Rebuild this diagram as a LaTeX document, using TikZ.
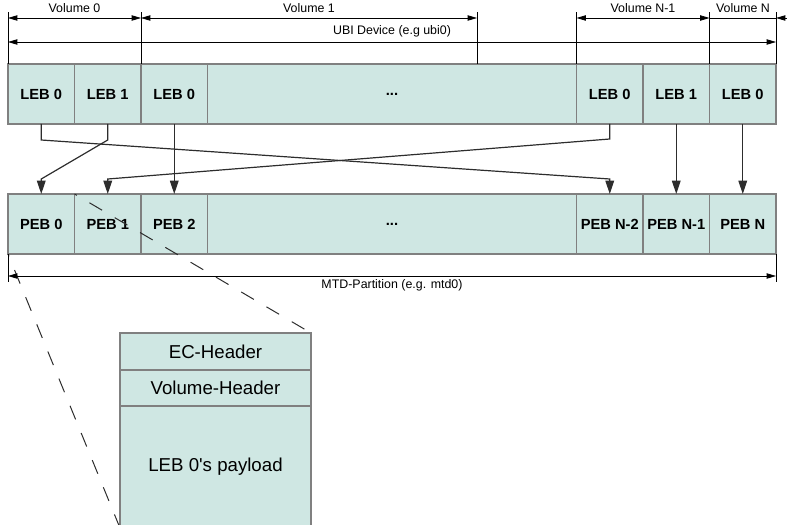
\documentclass[tikz,border=0pt]{standalone}
\usepackage{fontspec}
\setmainfont{Liberation Sans}
\usetikzlibrary{arrows.meta}
\definecolor{cellfill}{RGB}{207,231,227}
\definecolor{cellline}{RGB}{128,128,128}
\definecolor{linkgray}{RGB}{45,45,45}
\tikzset{every picture/.style={line width=0.75pt}}
\tikzset{
  cell/.style={draw=cellline, fill=cellfill, line width=1pt, anchor=north west, inner sep=0pt, outer sep=0pt,
    minimum width=49.875pt, minimum height=45pt, font=\fontsize{11}{13}\selectfont\bfseries},
  widecell/.style={cell, minimum width=276.75pt},
  part/.style={cell, minimum width=143.25pt, font=\fontsize{14}{16}\selectfont},
  dim/.style={{Triangle[length=7pt,width=4pt]}-{Triangle[length=7pt,width=4pt]}, line width=0.6pt},
  dimtip/.style={-{Triangle[length=7pt,width=4pt]}, line width=0.6pt},
  tick/.style={line width=0.75pt},
  link/.style={-{Triangle[length=10pt,width=6.5pt]}, draw=linkgray, line width=0.9pt},
  zoomline/.style={draw=linkgray, line width=0.75pt, dash pattern=on 11pt off 11pt, dash phase=9pt},
  dimlabel/.style={inner sep=0.75pt, font=\fontsize{9.3}{11}\selectfont}
}

\begin{document}
\begin{tikzpicture}[x=0.75pt,y=0.75pt,yscale=-1,xscale=1]
\useasboundingbox (0,0) rectangle (787,524);
\clip (0,0) rectangle (787,524);

% LEB row
\draw (8,64) node [cell] (leb0a) {LEB 0};
\draw (74.5,64) node [cell] (leb1a) {LEB 1};
\draw (141,64) node [cell] (leb0b) {LEB 0};
\draw (207.5,64) node [widecell] (lebdots) {...};
\draw (576.5,64) node [cell] (leb0c) {LEB 0};
\draw (643,64) node [cell] (leb1c) {LEB 1};
\draw (709.5,64) node [cell] (leb0d) {LEB 0};

% PEB row
\draw (8,194) node [cell] (peb0) {PEB 0};
\draw (74.5,194) node [cell] (peb1) {PEB 1};
\draw (141,194) node [cell] (peb2) {PEB 2};
\draw (207.5,194) node [widecell] (pebdots) {...};
\draw (576.5,194) node [cell] (pebn2) {PEB N-2};
\draw (643,194) node [cell] (pebn1) {PEB N-1};
\draw (709.5,194) node [cell] (pebn) {PEB N};

% PEB 1 in detail
\draw (120,333) node [part, minimum height=27.75pt] (ech) {EC-Header};
\draw (ech.south west) node [part, minimum height=27pt] (vidh) {Volume-Header};
\draw (vidh.south west) node [part, minimum height=91.5pt] (payload) {LEB 0\textquotesingle s payload};

%Dashed Lines
\draw [zoomline] (peb1.north west) -- (ech.north east);
\draw [zoomline] (peb0.south west) -- (payload.south west);

%Straight Lines: ticks
\draw [tick] (leb0a.north west) -- ++(0,-52);
\draw [tick] (leb0b.north west) -- ++(0,-52);
\draw [tick] (477,64) -- (477,12);
\draw [tick] (leb0c.north west) -- ++(0,-52);
\draw [tick] (leb0d.north west) -- ++(0,-52);
\draw [tick] (leb0d.north east) -- ++(0,-52);
\draw [tick] (peb0.south west) -- ++(0,28);
\draw [tick] (pebn.south east) -- ++(0,28);

%Dimension Lines
\coordinate (v0l) at (8,18);
\coordinate (v0r) at (141,18);
\coordinate (v1r) at (477,18);
\coordinate (vm1l) at (576.5,18);
\coordinate (vm1r) at (709.5,18);
\coordinate (vnr) at (776,18);
\coordinate (vnout) at (787,18);
\draw [dim] (v0l) -- (v0r);
\draw [dim] (v0r) -- (v1r);
\draw [dim] (vm1l) -- (vm1r);
\draw [line width=0.6pt] (vm1r) -- (vnr);
\draw [dimtip] (vnout) -- (vnr);
\draw [dim] (8,42) -- (776,42);
\draw [dim] (8,276) -- (776,276);

% Text Node
\draw (74.5,8) node [dimlabel] {Volume 0};
\draw (309,8) node [dimlabel] {Volume 1};
\draw (643,8) node [dimlabel] {Volume N-1};
\draw (743,8) node [dimlabel] {Volume N};
\draw (392,31) node [dimlabel] {UBI Device (e.g ubi0)};
\draw (392,285) node [dimlabel] {MTD-Partition (e.g. mtd0)};

%Connectors LEB -> PEB
\draw [link] (leb0a.south) -- ++(0,16) -- ([yshift=-11.25pt]pebn2.north) -- (pebn2.north);
\draw [link] (leb1a.south) -- ++(0,16) -- ([yshift=-11.25pt]peb0.north) -- (peb0.north);
\draw [link] (leb0c.south) -- ++(0,15) -- ([yshift=-11.25pt]peb1.north) -- (peb1.north);
\draw [link] (leb0b.south) -- (peb2.north);
\draw [link] (leb1c.south) -- (pebn1.north);
\draw [link] (leb0d.south) -- (pebn.north);

\end{tikzpicture}
\end{document}
